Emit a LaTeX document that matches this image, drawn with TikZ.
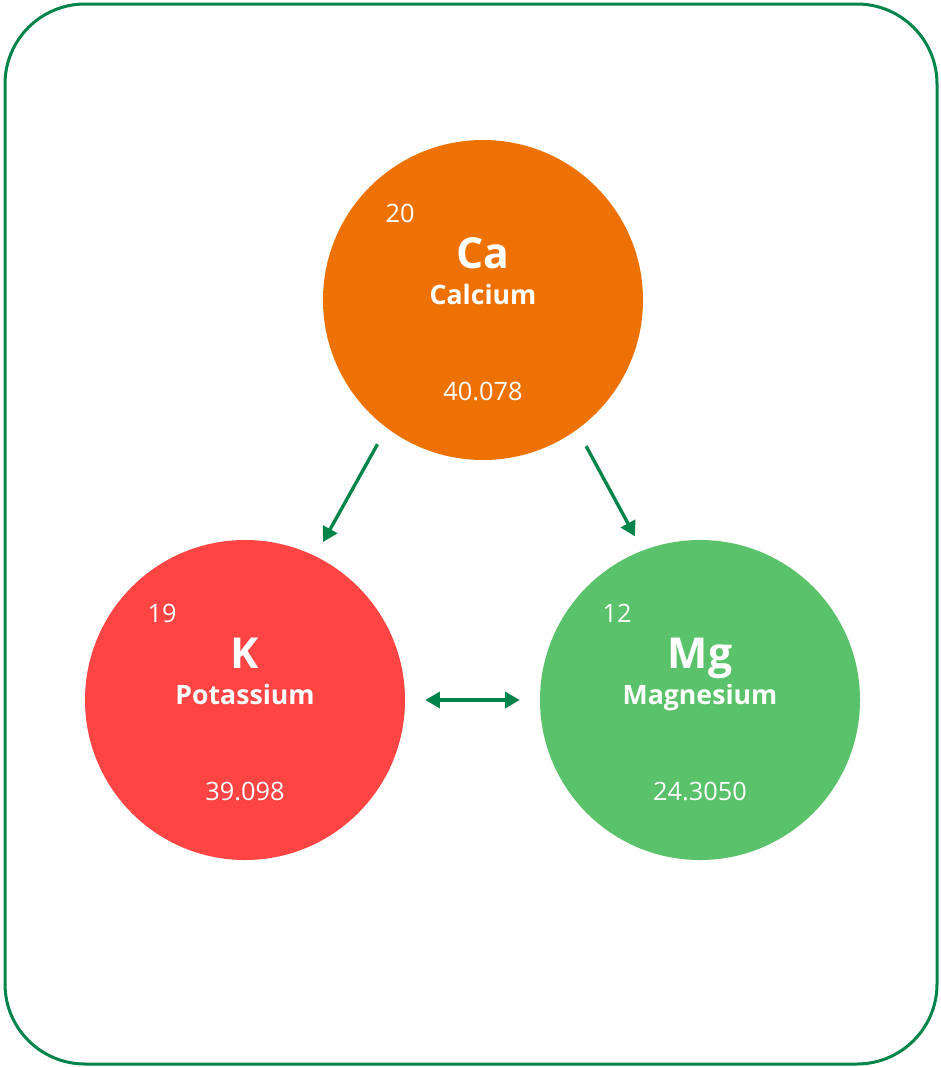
\documentclass[tikz,border=0pt]{standalone}
\usepackage{fontspec}
\setmainfont{Open Sans}
\usepackage{tikz}
\usetikzlibrary{calc,arrows.meta}
\definecolor{framecolorc}{HTML}{00844A}
\definecolor{calciumc}{HTML}{EE7203}
\definecolor{potassiumc}{HTML}{FF4544}
\definecolor{magnesiumc}{HTML}{5AC26A}
\colorlet{framecolor}{framecolorc}
\colorlet{textcolor}{white}
\tikzstyle{atom} =[
    circle,
    inner sep=0pt,
    minimum size=240pt
    ]
\tikzstyle{atomnumber} =[
    text=textcolor,
    anchor=base,
    font=\fontsize{19}{21}\selectfont
    ]
\tikzstyle{atomsymbol} =[
    text=textcolor,
    anchor=base,
    font=\fontsize{32}{35}\selectfont\bfseries
    ]
\tikzstyle{atomname} =[
    text=textcolor,
    anchor=base,
    font=\fontsize{20}{22}\selectfont\bfseries
    ]
\tikzstyle{link} =[
    draw=framecolor,
    line width=2.5pt,
    shorten <=14pt,
    shorten >=12pt,
    -{Triangle[length=11pt,width=12pt]}
    ]

\begin{document}
\begin{tikzpicture}[x=0.75pt,y=-0.75pt]
\useasboundingbox (0,0) rectangle (941,1067);
\draw[framecolor, line width=2.25pt, rounded corners=60pt] (5,4) rectangle (937,1064);

\node[atom, fill=calciumc] (ca) at (483,300) {};
\node[atomnumber] (canum) at ($(ca)+(-83,-78)$) {20};
\node[atomsymbol] (casym) at ($(ca)+(0,-32)$) {Ca};
\node[atomname] (caname) at ($(ca)+(0,4)$) {Calcium};
\node[atomnumber] (cawt) at ($(ca)+(0,100)$) {40.078};

\node[atom, fill=potassiumc] (k) at (245,700) {};
\node[atomnumber] (knum) at ($(k)+(-83,-78)$) {19};
\node[atomsymbol] (ksym) at ($(k)+(0,-32)$) {K};
\node[atomname] (kname) at ($(k)+(0,4)$) {Potassium};
\node[atomnumber] (kwt) at ($(k)+(0,100)$) {39.098};

\node[atom, fill=magnesiumc] (mg) at (700,700) {};
\node[atomnumber] (mgnum) at ($(mg)+(-83,-78)$) {12};
\node[atomsymbol] (mgsym) at ($(mg)+(0,-32)$) {Mg};
\node[atomname] (mgname) at ($(mg)+(0,4)$) {Magnesium};
\node[atomnumber] (mgwt) at ($(mg)+(0,100)$) {24.3050};

\draw[link] (ca.233) -- (k.64);
\draw[link] (ca.306) -- (mg.111);
\draw[link, shorten <=15pt, shorten >=15pt, {Triangle[length=11pt,width=12pt]}-{Triangle[length=11pt,width=12pt]}] (k.east) -- (mg.west);
\end{tikzpicture}
\end{document}
